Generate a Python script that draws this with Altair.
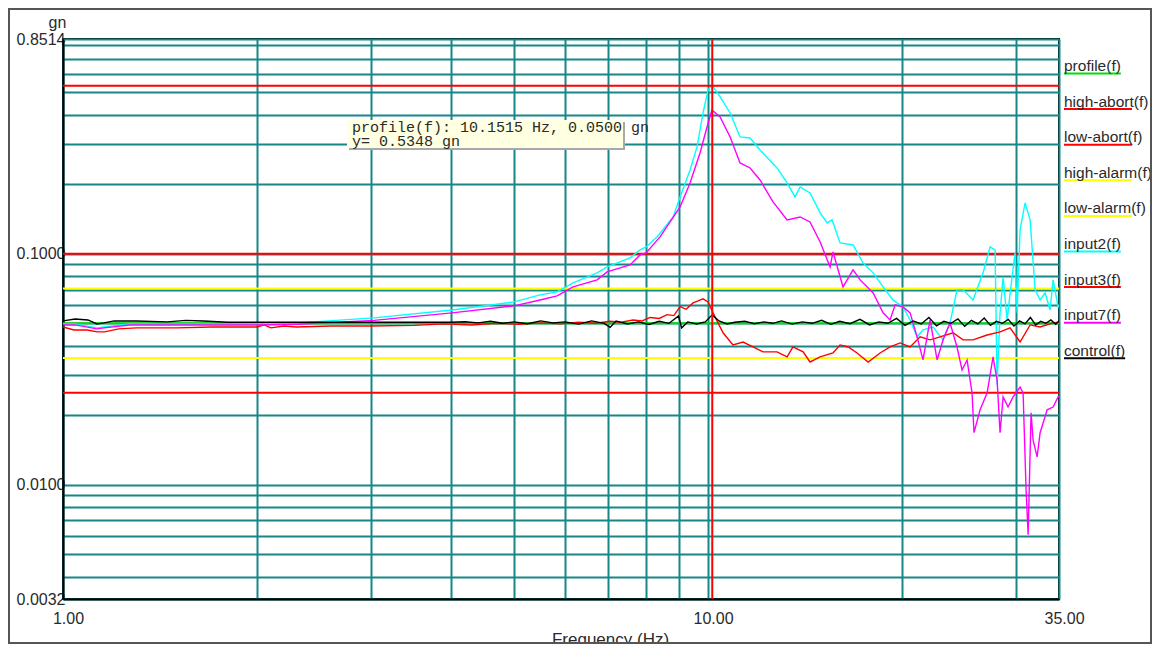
import altair as alt
import pandas as pd

# ---------------- data (frequency in Hz, amplitude in gn) ----------------
input2_f = [1.0, 1.044, 1.129, 1.158, 1.27, 1.518, 2.0, 2.314, 3.035, 4.01,
            5.004, 5.489, 5.834, 6.176, 6.73, 6.973, 7.569, 7.845, 8.015, 8.336,
            8.827, 9.05, 9.378, 9.614, 9.822, 10.0, 10.14, 10.44, 10.82, 11.21,
            11.62, 12.04, 12.79, 13.26, 13.64, 13.89, 14.39, 14.76, 14.92, 15.30,
            15.57, 16.02, 16.78, 17.39, 17.64, 18.03, 18.68, 19.36, 20.06, 20.57,
            21.09, 21.54, 22.33, 23.14, 23.72, 24.32, 24.85, 25.75, 26.69, 27.37,
            27.86, 28.06, 28.36, 28.67, 29.08, 29.60, 29.92, 30.14, 30.46, 31.01,
            31.57, 32.14, 32.72, 33.31, 33.90, 34.27, 34.89, 35.0]
input2_v = [0.0497, 0.0497, 0.0478, 0.0482, 0.0497, 0.0495, 0.0497, 0.0502, 0.0528, 0.0571,
            0.0619, 0.0664, 0.0684, 0.0748, 0.0827, 0.0877, 0.0960, 0.1039, 0.1071, 0.1183,
            0.1444, 0.1763, 0.2307, 0.2902, 0.4073, 0.5122, 0.5384, 0.4776, 0.4073, 0.3206,
            0.3174, 0.2817, 0.2353, 0.2026, 0.1763, 0.1948, 0.1835, 0.1596, 0.1503, 0.1360,
            0.1402, 0.1114, 0.1092, 0.0913, 0.0877, 0.0827, 0.0719, 0.0630, 0.0589, 0.0517,
            0.0437, 0.0468, 0.0482, 0.0424, 0.0502, 0.0698, 0.0698, 0.0631, 0.0827, 0.1071,
            0.1039, 0.0271, 0.0555, 0.0794, 0.0517, 0.0794, 0.1009, 0.0555, 0.1269, 0.1660,
            0.1402, 0.0698, 0.0631, 0.0677, 0.0571, 0.0771, 0.0589, 0.0600]

input3_f = [1.0, 1.04, 1.09, 1.13, 1.16, 1.22, 1.3, 1.5, 1.7, 2.0,
            2.05, 2.1, 2.2, 2.3, 2.6, 3.0, 3.5, 3.9, 4.3, 4.7,
            5.1, 5.5, 5.9, 6.3, 6.7, 7.05, 7.3, 7.65, 7.9, 8.13,
            8.4, 8.64, 8.85, 9.05, 9.25, 9.48, 9.65, 9.82, 10.0, 10.18,
            10.55, 10.93, 11.33, 11.74, 12.17, 12.79, 13.26, 13.54, 14.04, 14.39,
            14.92, 15.62, 16.02, 16.5, 17.02, 17.71, 18.48, 19.15, 19.85, 20.57,
            21.32, 22.09, 22.89, 23.98, 24.85, 25.75, 27.08, 28.36, 29.39, 30.46,
            31.57, 32.72, 34.27, 35.0]
input3_v = [0.0482, 0.0468, 0.0468, 0.0459, 0.0459, 0.0473, 0.0478, 0.0478, 0.0482, 0.0482,
            0.0492, 0.0478, 0.0487, 0.0482, 0.0487, 0.0487, 0.0490, 0.0497, 0.0492, 0.0500,
            0.0495, 0.0502, 0.0497, 0.0505, 0.0500, 0.0510, 0.0505, 0.0517, 0.0512, 0.0530,
            0.0525, 0.0545, 0.0540, 0.0590, 0.0575, 0.0613, 0.0625, 0.0638, 0.0619, 0.0555,
            0.0455, 0.0403, 0.0415, 0.0395, 0.0376, 0.0376, 0.0358, 0.0395, 0.0376, 0.0340,
            0.0358, 0.0372, 0.0403, 0.0395, 0.0372, 0.0340, 0.0372, 0.0395, 0.0411, 0.0395,
            0.0437, 0.0424, 0.0437, 0.0455, 0.0424, 0.0424, 0.0445, 0.0459, 0.0478, 0.0415,
            0.0492, 0.0482, 0.0502, 0.0507]

input7_f = [1.0, 1.044, 1.129, 1.158, 1.27, 2.0, 2.314, 3.035, 4.01, 5.004,
            5.489, 5.834, 6.176, 6.73, 6.973, 7.569, 7.845, 8.015, 8.426, 9.05,
            9.378, 9.718, 9.963, 10.14, 10.44, 10.82, 11.21, 11.62, 12.04, 12.61,
            13.26, 13.89, 14.39, 14.92, 15.46, 15.62, 16.19, 16.78, 17.21, 18.03,
            18.68, 19.15, 19.50, 20.06, 20.57, 21.09, 21.54, 22.09, 22.65, 23.14,
            23.72, 24.32, 24.76, 25.21, 25.66, 25.84, 26.41, 27.08, 27.66, 28.06,
            28.36, 28.67, 29.18, 29.71, 30.46, 30.79, 31.12, 31.35, 31.68, 31.91,
            32.37, 32.72, 33.55, 34.27, 34.89, 35.0]
input7_v = [0.0492, 0.0492, 0.0473, 0.0478, 0.0492, 0.0492, 0.0495, 0.0515, 0.0555, 0.0595,
            0.0631, 0.0657, 0.0719, 0.0771, 0.0835, 0.0895, 0.0989, 0.1009, 0.1183, 0.1596,
            0.2026, 0.2733, 0.3541, 0.4196, 0.3913, 0.3206, 0.2474, 0.2353, 0.2088, 0.1677,
            0.1402, 0.1444, 0.1374, 0.1125, 0.0877, 0.1019, 0.0719, 0.0852, 0.0771, 0.0677,
            0.0555, 0.0517, 0.0601, 0.0589, 0.0555, 0.0437, 0.0347, 0.0517, 0.0347, 0.0424,
            0.0502, 0.0395, 0.0314, 0.0347, 0.0250, 0.0168, 0.0211, 0.0250, 0.0358, 0.0284,
            0.0168, 0.0240, 0.0217, 0.0240, 0.0265, 0.0250, 0.0095, 0.00607, 0.0205, 0.0156,
            0.0132, 0.0168, 0.0211, 0.0217, 0.0240, 0.0242]

control_f = [1.0, 1.044, 1.093, 1.129, 1.158, 1.2, 1.3, 1.45, 1.55, 1.65,
             1.8, 2.0, 2.5, 3.0, 3.5, 4.0, 4.2, 4.4, 4.6, 4.8,
             5.0, 5.25, 5.5, 5.75, 6.0, 6.3, 6.6, 6.9, 7.05, 7.2,
             7.5, 7.8, 8.1, 8.4, 8.7, 9.0, 9.1, 9.3, 9.6, 9.9,
             10.15, 10.4, 10.7, 11.0, 11.4, 11.8, 12.2, 12.6, 13.0, 13.5,
             14.0, 14.5, 15.0, 15.5, 16.0, 16.6, 17.2, 17.8, 18.4, 19.0,
             19.6, 20.2, 20.8, 21.4, 22.0, 22.6, 23.2, 23.8, 24.4, 25.0,
             25.6, 26.2, 26.8, 27.4, 28.0, 28.6, 29.2, 29.8, 30.4, 31.0,
             31.6, 32.2, 32.8, 33.4, 34.0, 34.6, 35.0]
control_v = [0.0512, 0.0522, 0.0517, 0.0497, 0.0502, 0.0512, 0.0512, 0.0507, 0.0515, 0.0512,
             0.0505, 0.0505, 0.0505, 0.0505, 0.0505, 0.0505, 0.0508, 0.0502, 0.0510, 0.0500,
             0.0507, 0.0498, 0.0512, 0.0502, 0.0507, 0.0496, 0.0512, 0.0500, 0.0480, 0.0512,
             0.0497, 0.0507, 0.0494, 0.0510, 0.0500, 0.0538, 0.0478, 0.0507, 0.0497, 0.0507,
             0.0544, 0.0512, 0.0497, 0.0505, 0.0510, 0.0498, 0.0507, 0.0500, 0.0512, 0.0496,
             0.0507, 0.0500, 0.0515, 0.0495, 0.0510, 0.0498, 0.0520, 0.0492, 0.0507, 0.0500,
             0.0525, 0.0490, 0.0512, 0.0497, 0.0530, 0.0488, 0.0510, 0.0500, 0.0522, 0.0485,
             0.0515, 0.0497, 0.0527, 0.0490, 0.0510, 0.0500, 0.0520, 0.0487, 0.0512, 0.0497,
             0.0530, 0.0492, 0.0510, 0.0500, 0.0517, 0.0495, 0.0512]

profile_f = [1.0, 35.0]
profile_v = [0.05, 0.05]

limit_names = ["high-abort", "low-abort", "high-alarm", "low-alarm"]
limit_values = [0.1, 0.025, 0.0707, 0.0354]

cursor_f = 10.1515
cursor_v = 0.5348
tooltip_lines = ["profile(f): 10.1515 Hz, 0.0500 gn", "y= 0.5348 gn"]

legend_labels = ["profile(f)", "high-abort(f)", "low-abort(f)", "high-alarm(f)",
                 "low-alarm(f)", "input2(f)", "input3(f)", "input7(f)", "control(f)"]

x_ticks = [1, 2, 3, 4, 5, 6, 7, 8, 9, 10, 20, 30, 35]
x_label_values = [1, 10, 35]
y_ticks = [0.0032, 0.004, 0.005, 0.006, 0.007, 0.008, 0.009,
           0.01, 0.02, 0.03, 0.04, 0.05, 0.06, 0.07, 0.08, 0.09,
           0.1, 0.2, 0.3, 0.4, 0.5, 0.6, 0.7, 0.8, 0.8514]
y_label_values = [0.0032, 0.01, 0.1, 0.8514]

# ---------------- styles ----------------
RED, YELLOW, GREEN = "#FF0000", "#FFFF00", "#00E000"
CYAN, MAGENTA, BLACK = "#00FFFF", "#FF00FF", "#000000"
TEAL = "#168787"
TXT = "#2a2a2a"
SANS = "Liberation Sans"
MONO = "Liberation Mono"
limit_colors = [RED, RED, YELLOW, YELLOW]
legend_colors = [GREEN, RED, RED, YELLOW, YELLOW, CYAN, RED, MAGENTA, BLACK]

W, H = 996, 560

x_axis = alt.Axis(
    values=x_ticks,
    labelExpr="indexof(%s, datum.value) >= 0 ? format(datum.value, '.2f') : ''" % str(x_label_values),
    grid=True, gridColor=TEAL, gridWidth=2, gridOpacity=1,
    ticks=False, domainColor="black", domainWidth=2,
    labelFont=SANS, labelFontSize=16, labelColor=TXT, labelPadding=19,
    labelBaseline="middle", labelOffset=5, labelFlush=False, labelOverlap=False, labelBound=False,
    title="Frequency (Hz)", titleFont=SANS, titleFontSize=17, titleFontWeight="normal",
    titleColor=TXT, titleX=547, titleY=40, titleAlign="center", titleBaseline="middle",
)
y_axis = alt.Axis(
    values=y_ticks,
    labelExpr="indexof(%s, datum.value) >= 0 ? format(datum.value, '.4f') : ''" % str(y_label_values),
    grid=True, gridColor=TEAL, gridWidth=2, gridOpacity=1,
    ticks=False, domainColor="black", domainWidth=2,
    labelFont=SANS, labelFontSize=16, labelColor=TXT, labelPadding=-2,
    labelAlign="right", labelBaseline="middle", labelFlush=False, labelOverlap=False, labelBound=False,
    title="gn", titleFont=SANS, titleFontSize=16, titleFontWeight="normal", titleColor=TXT,
    titleAngle=0, titleX=-6, titleY=-17, titleAlign="center", titleBaseline="middle",
)
xscale = alt.Scale(type="log", domain=[1, 35], nice=False)
yscale = alt.Scale(type="log", domain=[0.0032, 0.8514], nice=False)
X = alt.X("f:Q", scale=xscale, axis=x_axis)
Y = alt.Y("v:Q", scale=yscale, axis=y_axis)

def curve(fs, vs, color, width=1.4):
    df = pd.DataFrame({"f": fs, "v": vs})
    return alt.Chart(df).mark_line(color=color, strokeWidth=width, clip=True).encode(x=X, y=Y)

layers = []
# alarm / abort limits
for name, val, col in zip(limit_names, limit_values, limit_colors):
    layers.append(curve([1.0, 35.0], [val, val], col, 2))
# profile
layers.append(curve(profile_f, profile_v, GREEN, 2))
# measured curves
layers.append(curve(input2_f, input2_v, CYAN))
layers.append(curve(input3_f, input3_v, RED))
layers.append(curve(input7_f, input7_v, MAGENTA))
layers.append(curve(control_f, control_v, BLACK))

# cursor crosshair
layers.append(alt.Chart(pd.DataFrame({"f": [cursor_f]})).mark_rule(color=RED, strokeWidth=2).encode(x=X))
layers.append(alt.Chart(pd.DataFrame({"v": [cursor_v]})).mark_rule(color=RED, strokeWidth=2).encode(y=Y))

dummy = pd.DataFrame({"a": [0]})
# tooltip box
layers.append(alt.Chart(dummy).mark_rect(color="#a8a8a8").encode(
    x=alt.value(286), x2=alt.value(562), y=alt.value(83), y2=alt.value(111)))
layers.append(alt.Chart(dummy).mark_rect(color="#FFFFE1").encode(
    x=alt.value(284), x2=alt.value(560), y=alt.value(81), y2=alt.value(109)))
for i, line in enumerate(tooltip_lines):
    layers.append(alt.Chart(dummy).mark_text(
        text=line, font=MONO, fontSize=15, color=TXT, align="left", baseline="alphabetic"
    ).encode(x=alt.value(289), y=alt.value(93 + 14 * i)))

# legend (text with coloured underline)
CW = {"p": .556, "r": .333, "o": .556, "f": .278, "i": .222, "l": .222, "e": .556, "(": .333,
      ")": .333, "h": .556, "g": .556, "-": .333, "a": .556, "b": .556, "t": .278, "w": .722,
      "m": .833, "n": .556, "u": .556, "2": .556, "3": .556, "7": .556, "c": .5}
LFS = 15.5
for i, (lab, col) in enumerate(zip(legend_labels, legend_colors)):
    yb = 32 + 35.6 * i
    tw = sum(CW.get(ch, .55) for ch in lab) * LFS
    ul = min(tw, 68)
    layers.append(alt.Chart(dummy).mark_rule(color=col, strokeWidth=2).encode(
        x=alt.value(1001), x2=alt.value(1001 + ul), y=alt.value(yb + 2.5)))
    layers.append(alt.Chart(dummy).mark_text(
        text=lab, font=SANS, fontSize=LFS, color=TXT, align="left", baseline="alphabetic"
    ).encode(x=alt.value(1001), y=alt.value(yb)))

# outer frame
layers.append(alt.Chart(dummy).mark_rect(filled=False, stroke="#555555", strokeWidth=2).encode(
    x=alt.value(-54), x2=alt.value(1088), y=alt.value(-30), y2=alt.value(604)))

chart = alt.layer(*layers).properties(
    width=W, height=H,
    autosize=alt.AutoSizeParams(type="none"),
    padding={"left": 55, "top": 31, "right": 93, "bottom": 45},
    background="white",
).configure_view(stroke="black", strokeWidth=2)

chart.save("out.html", embed_options={"renderer": "svg", "actions": False})
